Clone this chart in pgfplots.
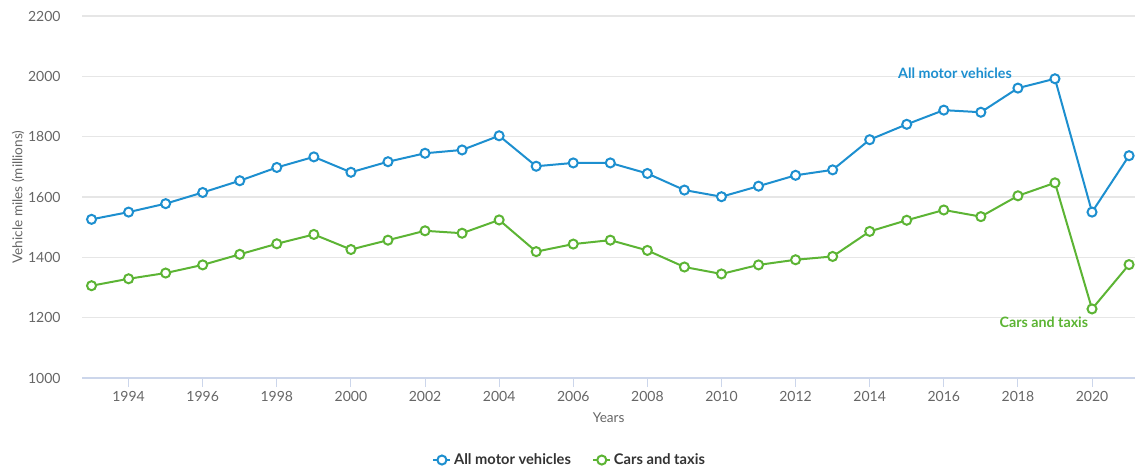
\documentclass[border=0pt]{standalone}
\usepackage{fontspec}
\setmainfont{Lato}
\usepackage{pgfplots}
\pgfplotsset{compat=1.18}
\usetikzlibrary{calc}
\definecolor{allmv}{RGB}{29,143,207}
\definecolor{cars}{RGB}{92,180,52}
\definecolor{axisc}{RGB}{204,214,235}
\definecolor{gridc}{RGB}{230,230,230}
\definecolor{labc}{RGB}{102,102,102}
\definecolor{legc}{RGB}{51,51,51}

\pgfplotstableread{
year  all   cars
1993  1526  1306
1994  1550  1329
1995  1578  1348
1996  1615  1375
1997  1654  1410
1998  1698  1445
1999  1733  1476
2000  1682  1426
2001  1717  1457
2002  1745  1488
2003  1756  1480
2004  1803  1524
2005  1702  1419
2006  1713  1444
2007  1713  1457
2008  1678  1423
2009  1623  1368
2010  1601  1345
2011  1636  1375
2012  1672  1392
2013  1690  1403
2014  1790  1486
2015  1841  1523
2016  1888  1557
2017  1881  1535
2018  1961  1604
2019  1992  1647
2020  1550  1229
2021  1737  1376
}\traffic

\begin{document}
\begin{tikzpicture}
\begin{axis}[
  scale only axis, width=789.5pt, height=271.5pt,
  xmin=1992.75, xmax=2021.16, ymin=1000, ymax=2200,
  axis lines*=left,
  x axis line style={draw=axisc,line width=1pt},
  y axis line style={draw=none},
  xtick={1994,1996,...,2020}, ytick={1000,1200,...,2200},
  x tick label style={/pgf/number format/1000 sep={}},
  y tick label style={/pgf/number format/1000 sep={}},
  /pgf/number format/assume math mode=true,
  tick label style={font=\fontsize{10.5}{12}\selectfont,text=labc},
  xtick style={draw=axisc,line width=0.8pt},
  ytick style={draw=none},
  tick align=outside, major tick length=6.75pt,
  ymajorgrids, grid style={gridc,line width=0.8pt},
  yticklabel style={xshift=-6pt},
  xlabel={Years}, ylabel={Vehicle miles (millions)},
  label style={font=\fontsize{10.2}{12}\selectfont,text=labc},
  xlabel style={at={(axis description cs:0.5,-0.1105)},anchor=center},
  ylabel style={at={(axis description cs:-0.061,0.5)},anchor=center},
  legend columns=2,
  legend style={draw=none,fill=none,at={(0.4633,-0.2265)},anchor=center,
    font=\bfseries\fontsize{11}{13}\selectfont,text=legc,
    /tikz/every even column/.append style={column sep=14pt}},
  legend image code/.code={\draw[mark repeat=2,mark phase=2]
    plot coordinates {(0pt,0pt)(6.4pt,0pt)(12.8pt,0pt)};},
  every axis plot/.append style={line width=1.5pt,mark=o,
    mark size=3.4pt,mark options={fill=white,line width=1.5pt}},
  clip=false,
]
\addplot[allmv,mark=*] table[x=year,y=all] {\traffic};
\addlegendentry{All motor vehicles}
\addplot[cars,mark=*] table[x=year,y=cars] {\traffic};
\addlegendentry{Cars and taxis}
\node[font=\bfseries\fontsize{10.7}{12}\selectfont,text=allmv] at (axis cs:2016.3,2011) {All motor vehicles};
\node[font=\bfseries\fontsize{10.7}{12}\selectfont,text=cars] at (axis cs:2018.7,1186) {Cars and taxis};
\end{axis}
\pgfresetboundingbox
\path[use as bounding box] ($(current axis.south west)+(-61.7pt,-68.25pt)$) rectangle ($(current axis.north east)+(0pt,12pt)$);
\end{tikzpicture}
\end{document}
